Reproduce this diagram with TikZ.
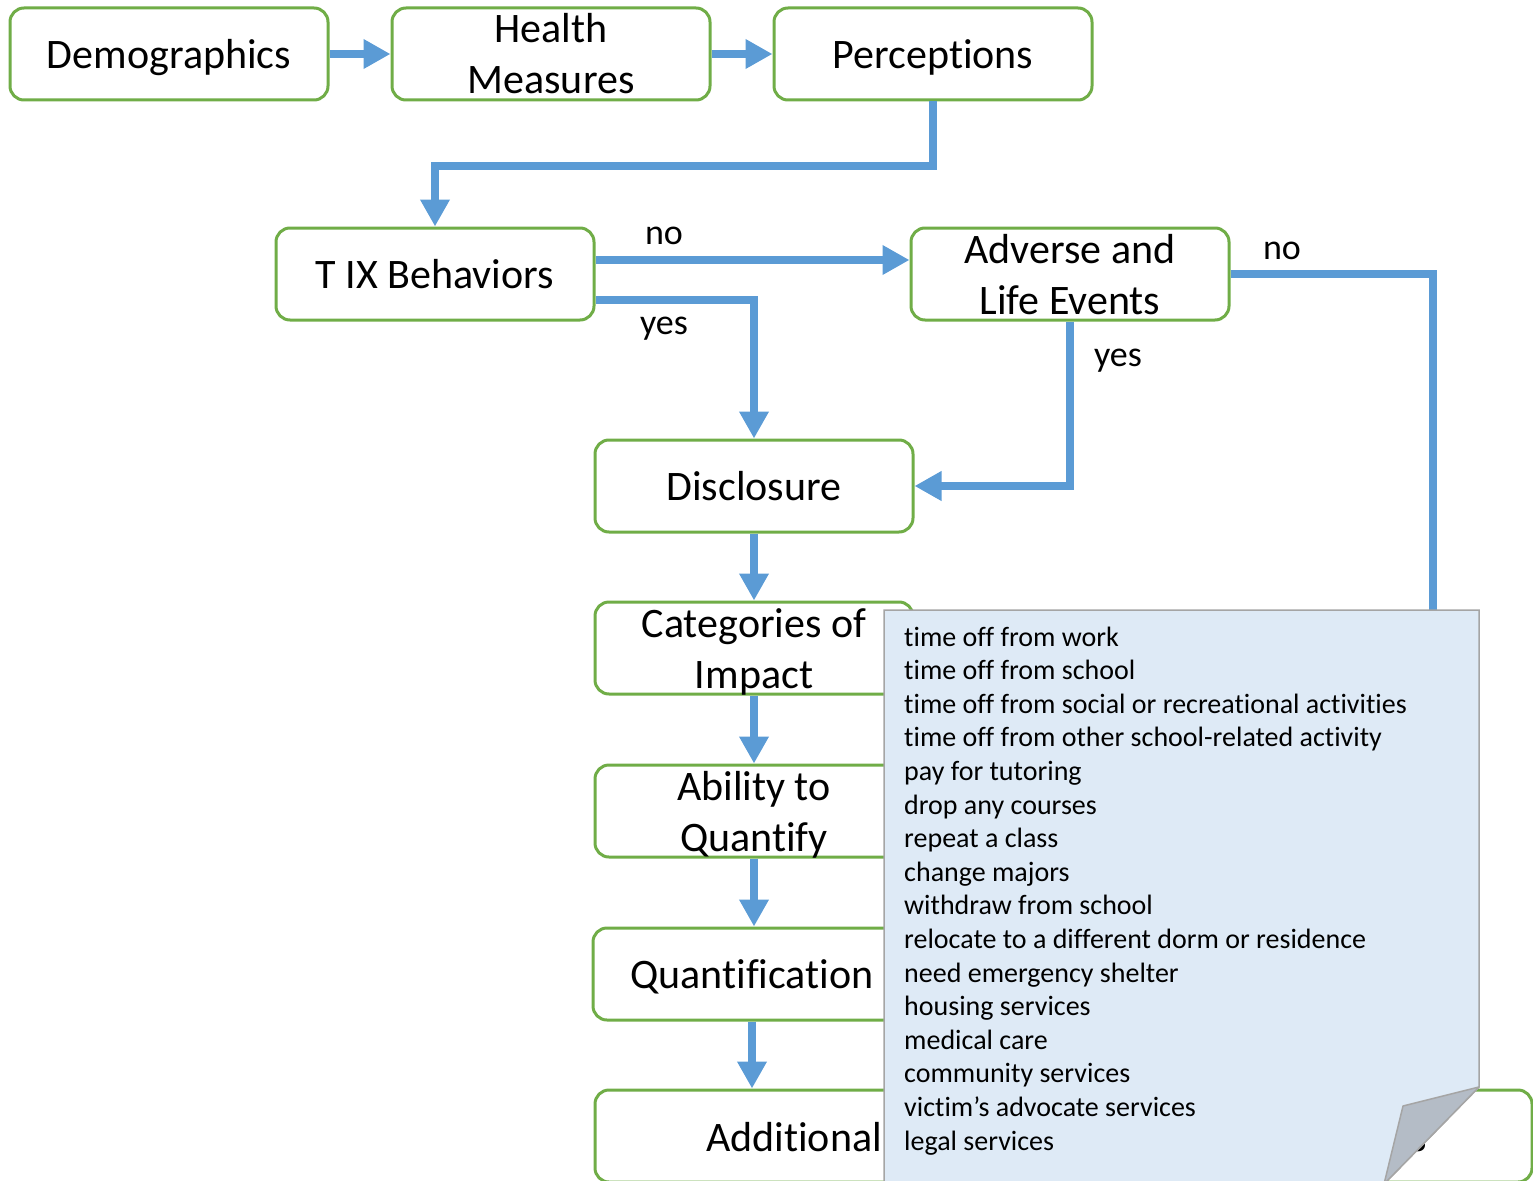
\documentclass[tikz,border=0pt]{standalone}
\usepackage{fontspec}
\setmainfont{Carlito}[Ligatures={NoCommon}]
\usetikzlibrary{arrows.meta,calc}
\definecolor{boxgreen}{HTML}{70AD47}
\definecolor{flowblue}{HTML}{5B9BD5}
\definecolor{notefill}{HTML}{DEEAF6}
\definecolor{noteedge}{HTML}{A5A5A5}
\definecolor{foldfill}{HTML}{B4BCC6}

% every line of a box label gets the same height and no depth,
% so labels sit at the same level whatever their letters are
\newcommand{\fixline}[1]{\raisebox{0pt}[29pt][0pt]{#1}}

\tikzset{
  stagebox/.style={draw=boxgreen, line width=3pt, rounded corners=14pt, fill=white,
    minimum width=318pt, minimum height=92pt, inner sep=0pt, align=center,
    font=\fontsize{42}{51}\selectfont},
  flow/.style={draw=flowblue, line width=8pt, -{Triangle[width=28pt,length=27pt]}},
  flowline/.style={draw=flowblue, line width=8pt},
  branch/.style={inner sep=0pt, font=\fontsize{36}{43}\selectfont},
  item/.style={anchor=base west, inner sep=0pt, font=\fontsize{28}{34}\selectfont}
}

\begin{document}
\begin{tikzpicture}[x=1pt, y=-1pt]
\useasboundingbox (0,0) rectangle (1533,1180);

% stages of the flow
\node[stagebox] (demo)   at (169,54)  {\fixline{Demographics}};
\node[stagebox] (health) at (551,54)  {\fixline{Health}\\\fixline{Measures}};
\node[stagebox] (perc)   at (933,54)  {\fixline{Perceptions}};
\node[stagebox] (tix)    at (435,274) {\fixline{T IX Behaviors}};
\node[stagebox] (adv)    at (1070,274) {\fixline{Adverse and}\\\fixline{Life Events}};
\node[stagebox] (disc)   at (754,486) {\fixline{Disclosure}};
\node[stagebox] (cat)    at (754,648) {\fixline{Categories of}\\\fixline{Impact}};
\node[stagebox] (abil)   at (754,811) {\fixline{Ability to}\\\fixline{Quantify}};
\node[stagebox] (quant)  at (752,974) {\fixline{Quantification}};
\node[stagebox, minimum width=937pt] (addl) at (1063.5,1136) {};
\node[anchor=base west, inner sep=0pt, font=\fontsize{42}{51}\selectfont] (addltext) at (706,1151) {Additional};
\node[anchor=base, inner sep=0pt, font=\fontsize{42}{51}\selectfont] (addlend) at (1419,1151) {s};

% connectors
\draw[flow] (demo) -- (health);
\draw[flow] (health) -- (perc);
\draw[flow] (perc.south) -- ++(0,64) -| (tix.north);
\draw[flow] ($(tix.east)+(0,-14)$) -- ($(adv.west)+(0,-14)$);
\draw[flow] ($(tix.east)+(0,26)$) -| (disc.north);
\draw[flow] (adv.south) |- (disc.east);
\coordinate (noteentry) at (1433,650);
\draw[flowline] (adv.east) -| (noteentry);
\draw[flow] (disc) -- (cat);
\draw[flow] (cat) -- (abil);
\draw[flow] (abil.south) -- (abil.south |- quant.north);
\draw[flow] (quant.south) -- (quant.south |- addl.north);

% branch labels
\node[branch] (tixno)  at (664,236)  {no};
\node[branch] (tixyes) at (664,329)  {yes};
\node[branch] (advyes) at (1118,361) {yes};
\node[branch] (advno)  at (1282,251) {no};

% note with folded corner
\fill[notefill] (884,610) -- (1479,610) -- (1479,1087) -- (1384,1184) -- (884,1184) -- cycle;
\draw[noteedge, line width=1.5pt] (884,1184) -- (884,610) -- (1479,610) -- (1479,1087) -- (1384,1184);
\filldraw[fill=foldfill, draw=noteedge, line width=1.5pt, line join=round]
  (1479,1087) -- (1403,1106) -- (1384,1184) -- cycle;

\foreach \txt [count=\i from 0] in {
  time off from work,
  time off from school,
  time off from social or recreational activities,
  time off from other school-related activity,
  pay for tutoring,
  drop any courses,
  repeat a class,
  change majors,
  withdraw from school,
  relocate to a different dorm or residence,
  need emergency shelter,
  housing services,
  medical care,
  community services,
  victim’s advocate services,
  legal services}
  \node[item] (cost\i) at (904,{646+33.6*\i}) {\txt};
\end{tikzpicture}
\end{document}
